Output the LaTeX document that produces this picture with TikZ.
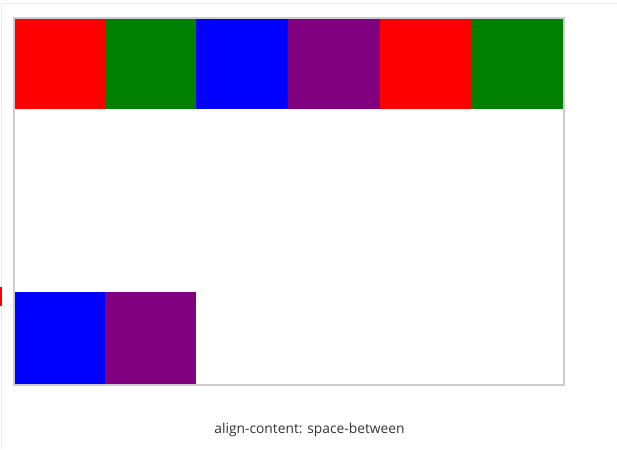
\documentclass[tikz,border=0pt]{standalone}
\usepackage{fontspec}
\setmainfont{Open Sans}
\definecolor{cred}{RGB}{255,0,0}
\definecolor{cgreen}{RGB}{0,128,0}
\definecolor{cblue}{RGB}{0,0,255}
\definecolor{cpurple}{RGB}{128,0,128}
\definecolor{frame}{RGB}{204,204,204}
\definecolor{faint}{RGB}{235,235,235}
\definecolor{txt}{RGB}{51,51,51}
\begin{document}
\begin{tikzpicture}[x=1pt,y=-1pt,
  cell/.style={minimum width=91.7pt,minimum height=91.5pt,inner sep=0pt,outer sep=0pt,anchor=north west,draw=none},
  caption/.style={font=\fontsize{13.8pt}{16pt}\selectfont,text=txt,inner sep=0pt}]
\useasboundingbox (0,0) rectangle (617,449);
% page edges
\draw[faint,line width=1.2pt] (2,3.5) -- (617,3.5);
\draw[faint,line width=0.8pt] (1.5,4) -- (1.5,449);
\fill[cred] (0,287) rectangle (1.5,306);
% items top row
\node[cell,fill=cred]    (a1) at (13,18) {};
\node[cell,fill=cgreen]  (a2) at (104.7,18) {};
\node[cell,fill=cblue]   (a3) at (196.3,18) {};
\node[cell,fill=cpurple] (a4) at (288,18) {};
\node[cell,fill=cred]    (a5) at (379.7,18) {};
\node[cell,fill=cgreen]  (a6) at (471.3,18) {};
% bottom row
\node[cell,fill=cblue]   (b1) at (13,292) {};
\node[cell,fill=cpurple] (b2) at (104.7,292) {};
% container
\node[draw=frame,line width=2pt,minimum width=550.5pt,minimum height=366.5pt,inner sep=0pt,anchor=north west] (box) at (12.5,17.5) {};
\node[caption] (cap) at (309.5,430) {align-content: space-between};
\end{tikzpicture}
\end{document}
